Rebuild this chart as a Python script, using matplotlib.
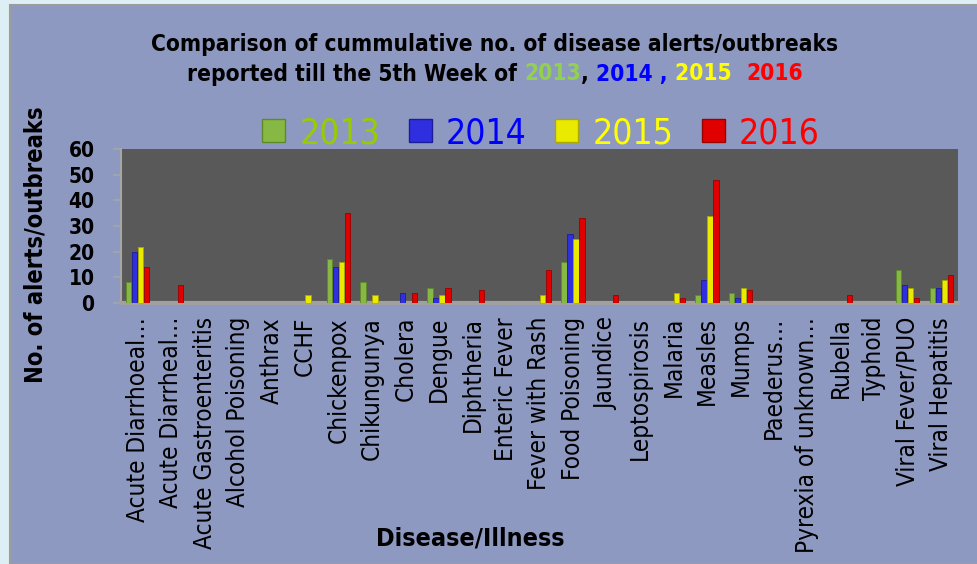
import matplotlib
matplotlib.use("Agg")
import matplotlib.pyplot as plt
from matplotlib.patches import Patch, Rectangle
from matplotlib import font_manager
from matplotlib.font_manager import FontProperties
import numpy as np

# data
diseases = ["Acute Diarrhoeal\u2026", "Acute Diarrheal\u2026", "Acute Gastroenteritis",
            "Alcohol Poisoning", "Anthrax", "CCHF", "Chickenpox", "Chikungunya",
            "Cholera", "Dengue", "Diphtheria", "Enteric Fever", "Fever with Rash",
            "Food Poisoning", "Jaundice", "Leptospirosis", "Malaria", "Measles",
            "Mumps", "Paederus\u2026", "Pyrexia of unknown\u2026", "Rubella",
            "Typhoid", "Viral Fever/PUO", "Viral Hepatitis"]
years = ["2013", "2014", "2015", "2016"]
v2013 = [8, 0, 0, 0, 0, 0, 17, 8, 0, 6, 0, 0, 0, 16, 0, 0, 0, 3, 4, 0, 0, 0, 0, 13, 6]
v2014 = [20, 0, 0, 0, 0, 0, 14, 0, 4, 2, 0, 0, 0, 27, 0, 0, 0, 9, 2, 0, 0, 0, 0, 7, 6]
v2015 = [22, 0, 0, 0, 0, 3, 16, 3, 0, 3, 0, 0, 3, 25, 0, 0, 4, 34, 6, 0, 0, 0, 0, 6, 9]
v2016 = [14, 7, 0, 0, 0, 0, 35, 0, 4, 6, 5, 0, 13, 33, 3, 0, 2, 48, 5, 0, 0, 3, 0, 2, 11]

bar_colors = ["#86B843", "#2F2FE0", "#EAEA00", "#E00000"]
edge_colors = ["#5E8A2A", "#1C1C9A", "#A8A800", "#9A0000"]
text_colors = ["#99CC00", "#0000FF", "#FFFF00", "#FF0000"]


# look for a narrow sans face (the chart uses a Calibri-like font)
def narrow_font(bold):
    prefs = ["liberation sans narrow", "dejavu sans condensed", "noto sans condensed",
             "open sans condensed", "roboto condensed", "noto sans"]
    best = None
    for f in font_manager.fontManager.ttflist:
        name, fn = f.name.lower(), f.fname.lower()
        if f.style != "normal" or "mono" in name or "serif" in name or "cjk" in name:
            continue
        if ("bold" in str(f.weight) or (isinstance(f.weight, int) and f.weight >= 700)) != bold:
            continue
        cond = ("narrow" in name or "condensed" in name or "narrow" in fn
                or ("condensed" in fn and "semi" not in fn and "extra" not in fn)
                or f.stretch == "condensed" or f.stretch == 300)
        if not cond:
            continue
        key = name + " " + fn
        for rank, p in enumerate(prefs):
            if p.split()[0] in key:
                if best is None or rank < best[0]:
                    best = (rank, f.fname)
                break
    if best:
        return FontProperties(fname=best[1])
    return FontProperties(family="Liberation Sans", weight="bold" if bold else "normal")


REG = narrow_font(False)
BOLD = narrow_font(True)


def fp(base, size):
    p = base.copy()
    p.set_size(size)
    return p


W, H = 977, 564
fig = plt.figure(figsize=(W / 100, H / 100), dpi=100, facecolor="#DDEFF4")

# lavender chart panel with grey border
fig.patches.append(Rectangle((10 / W, 0), 1, 1 - 5 / H, transform=fig.transFigure,
                             facecolor="#8E99C1", edgecolor="#9C9C9C", lw=1.5, zorder=-5))

ax = fig.add_axes([121 / W, 1 - 303 / H, (958 - 121) / W, (303 - 149) / H], zorder=2)
ax.set_facecolor("#595959")

x = np.arange(len(diseases))
pitch = 0.179
series = [v2013, v2014, v2015, v2016]
for i, vals in enumerate(series):
    ax.bar(x + (i - 1.5) * pitch, vals, width=0.16, color=bar_colors[i],
           edgecolor=edge_colors[i], linewidth=0.6, zorder=3)

ax.set_xlim(-0.5, len(diseases) - 0.5)
ax.set_ylim(0, 60)
ax.set_yticks(range(0, 61, 10))
ax.set_xticks(x)
ax.set_xticklabels(diseases, rotation=90, va="top", ha="center", fontproperties=fp(REG, 17.5))
ax.set_yticklabels([str(v) for v in range(0, 61, 10)], fontproperties=fp(BOLD, 15))
ax.tick_params(axis="x", length=0, pad=10)
ax.tick_params(axis="y", length=6, width=1.2, color="#A6A6A6", pad=13)

for s in ["top", "right"]:
    ax.spines[s].set_visible(False)
ax.spines["left"].set_color("#A6A6A6")
ax.spines["left"].set_linewidth(1.5)
ax.spines["bottom"].set_color("#A0A0A0")
ax.spines["bottom"].set_linewidth(3)

fig.text(36 / W, 1 - 245 / H, "No. of alerts/outbreaks", rotation=90,
         fontproperties=fp(BOLD, 17), ha="center", va="center")
fig.text(470 / W, 1 - 538 / H, "Disease/Illness", fontproperties=fp(BOLD, 18),
         ha="center", va="center")

# title, second line with coloured years
fig.text(495 / W, 1 - 44 / H, "Comparison of cummulative no. of disease alerts/outbreaks",
         fontproperties=fp(BOLD, 16.3), ha="center", va="center")
segs = [("reported till the 5th Week of ", "black"), ("2013", "#92D050"), (", ", "black"),
        ("2014 , ", "#0000FF"), ("2015  ", "#FFFF00"), ("2016", "#FF0000")]
r = fig.canvas.get_renderer()
parts = [fig.text(0, 1 - 74 / H, s, color=c, fontproperties=fp(BOLD, 16.3),
                  ha="left", va="center") for s, c in segs]
widths = [p.get_window_extent(r).width for p in parts]
xpos = 495 - sum(widths) / 2
for p, w in zip(parts, widths):
    p.set_x(xpos / W)
    xpos += w

handles = [Patch(facecolor=bar_colors[i], edgecolor=edge_colors[i], lw=1) for i in range(4)]
leg = fig.legend(handles, years, loc="center", bbox_to_anchor=(541 / W, 1 - 133 / H),
                 ncol=4, frameon=False, prop=fp(REG, 25.5), handlelength=0.65, handleheight=0.65,
                 handletextpad=0.4, columnspacing=0.8, borderpad=0)
for t, c in zip(leg.get_texts(), text_colors):
    t.set_color(c)

fig.savefig("out.png", dpi=100, facecolor=fig.get_facecolor())
